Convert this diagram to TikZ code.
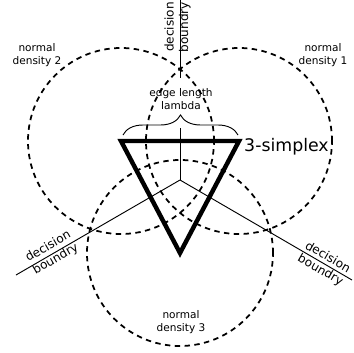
\documentclass[tikz,border=0pt]{standalone}
\usepackage{fontspec}
\setmainfont{DejaVu Sans}
\usetikzlibrary{decorations.pathreplacing}

\begin{document}
\begin{tikzpicture}[x=0.3mm, y=-0.3mm, every node/.style={font=\fontsize{9}{11}\selectfont, align=center, inner sep=0pt}, dens/.style={line width=1.5pt, dash pattern=on 4.6pt off 3.8pt}, bnd/.style={line width=0.8pt}, blbl/.style={font=\fontsize{10.3}{12.5}\selectfont}]
	\useasboundingbox (0,0) rectangle (353,353);
	\coordinate (c) at (180,180);
	\coordinate (v1) at (239,141);
	\coordinate (v2) at (121,141);
	\coordinate (v3) at (180,253);
	\foreach \v in {v1,v2,v3} {\draw[dens] (\v) circle [radius=27.9mm];}
	% decision boundaries
	\coordinate (t0) at (180,0);
	\coordinate (t1) at (180,78);
	\coordinate (t2) at (180,128);
	\coordinate (l0) at (16,275);
	\coordinate (r0) at (352,280);
	\draw[bnd] (t0) -- (t1);
	\foreach \a in {t2, l0, r0} {\draw[bnd] (c) -- (\a);}
	\node[blbl, rotate=90] (btop) at (177.5,27) {decision\\boundry};
	\node[blbl, rotate=30] (bleft) at (52,253) {decision\\boundry};
	\node[blbl, rotate=-30] (bright) at (324,264) {decision\\boundry};
	% simplex
	\draw[line width=3.8pt] (v1) -- (v2) -- (v3) -- cycle;
	\node[font=\fontsize{14.8}{17}\selectfont, anchor=west] (simp) at (244,147) {3-simplex};
	\coordinate (e1) at (123,135);
	\coordinate (e2) at (238,135);
	\draw[bnd, decorate, decoration={brace, amplitude=6mm}] (e1) -- (e2);
	\node (edge) at (181,99) {edge length\\lambda};
	% densities
	\node (d1) at (323,55) {normal\\density 1};
	\node (d2) at (37,55) {normal\\density 2};
	\node (d3) at (181,322) {normal\\density 3};
\end{tikzpicture}
\end{document}
